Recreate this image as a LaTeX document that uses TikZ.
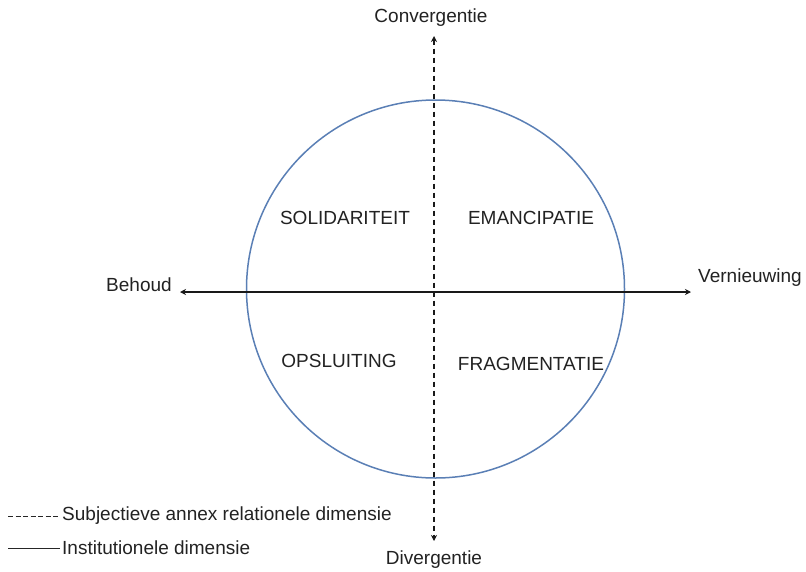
\documentclass[tikz,border=0pt]{standalone}
\usepackage{fontspec}
\setmainfont{Liberation Sans}
\usetikzlibrary{arrows.meta}
\definecolor{circblue}{HTML}{5A7FB5}
\definecolor{txt}{HTML}{222222}
\tikzset{
  lbl/.style={font=\fontsize{19}{21}\selectfont, text=txt, inner sep=0pt},
  axis/.style={line width=1.6pt, {Stealth[length=6pt,width=6pt]}-{Stealth[length=6pt,width=6pt]}, black!90},
  dax/.style={axis, dash pattern=on 5pt off 4pt},
}
\begin{document}
\begin{tikzpicture}[x=1pt,y=-1pt]
\useasboundingbox (0,0) rectangle (806,571);
\node[draw=circblue, line width=1.5pt, circle, minimum size=378pt, inner sep=0pt] (circ) at (435.5,289) {};
\coordinate (L) at (180,292);
\coordinate (R) at (691,292);
\coordinate (T) at (434,36);
\coordinate (B) at (434,541);
\draw[axis] (L) -- (R);
\draw[dax] (T) -- (B);
\node[lbl] (conv) at (431,18) {Convergentie};
\node[lbl] (div) at (434,560) {Divergentie};
\node[lbl] (beh) at (139,285) {Behoud};
\node[lbl, anchor=west] (ver) at (698,278) {Vernieuwing};
\node[lbl] (sol) at (345,218) {SOLIDARITEIT};
\node[lbl] (ema) at (531,218) {EMANCIPATIE};
\node[lbl] (ops) at (339,361) {OPSLUITING};
\node[lbl] (fra) at (531,364) {FRAGMENTATIE};
\coordinate (d1) at (8,516);
\coordinate (d2) at (60,516);
\coordinate (s1) at (8,548);
\coordinate (s2) at (60,548);
\draw[line width=1pt, dash pattern=on 5pt off 2.5pt, black!85] (d1) -- (d2);
\draw[line width=1pt, black!85] (s1) -- (s2);
\node[lbl, anchor=west] (leg1) at (62,516) {Subjectieve annex relationele dimensie};
\node[lbl, anchor=west] (leg2) at (62,548) {Institutionele dimensie};
\end{tikzpicture}
\end{document}
